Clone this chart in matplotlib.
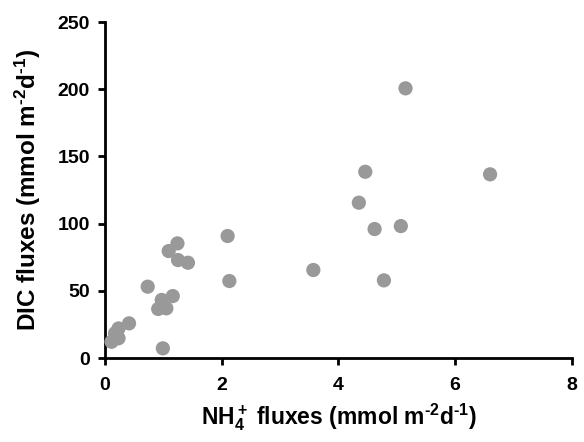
import matplotlib
matplotlib.use("Agg")
import matplotlib.pyplot as plt

plt.rcParams['font.family'] = ['Liberation Sans', 'DejaVu Sans']
plt.rcParams['font.weight'] = 'bold'
plt.rcParams['mathtext.fontset'] = 'custom'
plt.rcParams['mathtext.rm'] = 'Liberation Sans:bold'
plt.rcParams['mathtext.it'] = 'Liberation Sans:bold'
plt.rcParams['mathtext.bf'] = 'Liberation Sans:bold'
plt.rcParams['mathtext.default'] = 'rm'

nh4_flux = [5.15, 6.60, 4.46, 4.35, 4.62, 5.07, 4.78, 3.57, 2.10, 2.13,
            1.24, 1.09, 1.25, 1.42, 0.73, 1.16, 0.97, 0.91, 1.05, 0.99,
            0.41, 0.23, 0.17, 0.11, 0.23]
dic_flux = [200.7, 136.7, 138.6, 115.6, 96.0, 98.2, 57.8, 65.5, 90.8, 57.3,
            85.3, 79.6, 72.9, 70.9, 53.1, 46.1, 43.2, 36.5, 37.0, 7.2,
            25.8, 22.0, 18.4, 12.1, 14.7]

x_ticks = [0, 2, 4, 6, 8]
y_ticks = [0, 50, 100, 150, 200, 250]

fig = plt.figure(figsize=(5.84, 4.42), dpi=100)
ax = fig.add_axes([0.18, 0.19, 0.799, 0.76])
ax.scatter(nh4_flux, dic_flux, s=105, color='#999999', edgecolors='none', zorder=3, clip_on=False)

ax.set_xlim(0, 8)
ax.set_ylim(0, 250)
ax.set_xticks(x_ticks)
ax.set_xticklabels([str(t) for t in x_ticks], fontsize=14, fontweight='bold')
ax.set_yticks(y_ticks)
ax.set_yticklabels([str(t) for t in y_ticks], fontsize=14, fontweight='bold')
ax.tick_params(direction='out', length=5, width=2)
ax.tick_params(axis='x', pad=9)
ax.tick_params(axis='y', pad=6)
for s in ['top', 'right']:
    ax.spines[s].set_visible(False)
for s in ['left', 'bottom']:
    ax.spines[s].set_linewidth(2)

ax.set_xlabel(r'NH$_4^+$ fluxes (mmol m$^{\text{-}2}$d$^{\text{-}1}$)', fontsize=16.5, fontweight='bold')
ax.set_ylabel(r'DIC fluxes (mmol m$^{\text{-}2}$d$^{\text{-}1}$)', fontsize=17.5, fontweight='bold')
ax.xaxis.set_label_coords(0.5, -0.13)
ax.yaxis.set_label_coords(-0.133, 0.5)

fig.savefig('out.png', dpi=100)
